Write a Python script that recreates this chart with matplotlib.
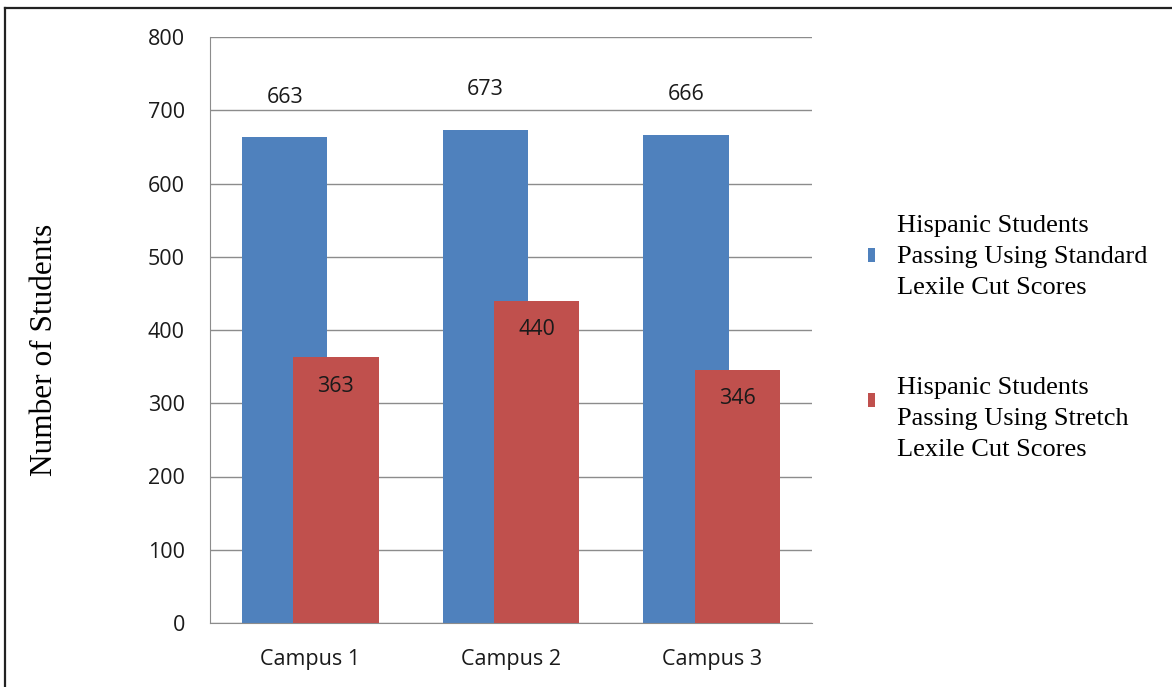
import matplotlib
matplotlib.use("Agg")
import matplotlib.pyplot as plt
from matplotlib.patches import Rectangle
from matplotlib.lines import Line2D
import numpy as np

campuses = ["Campus 1", "Campus 2", "Campus 3"]
standard = [663, 673, 666]
stretch = [363, 440, 346]
series_names = [
    ["Hispanic Students", "Passing Using Standard", "Lexile Cut Scores"],
    ["Hispanic Students", "Passing Using Stretch", "Lexile Cut Scores"],
]
yticks = [0, 100, 200, 300, 400, 500, 600, 700, 800]

BLUE = "#4F81BD"
RED = "#C0504D"
GRID = "#8C8C8C"
W, H = 1172, 687

fig = plt.figure(figsize=(W / 100, H / 100), dpi=100)
ax = fig.add_axes([210 / W, 1 - 623 / H, 602 / W, 586 / H])

x = np.arange(len(campuses))
bw = 0.425
off = 0.1275
ax.bar(x - off, standard, width=bw, color=BLUE, zorder=2)
ax.bar(x + off, stretch, width=bw, color=RED, zorder=3)

tick_font = "Open Sans"
fs = 15.5
for xi, v in zip(x, standard):
    ax.annotate(str(v), (xi - off, v), xytext=(0, 29), textcoords="offset points",
                ha="center", va="center", fontsize=fs, family=tick_font, color="#1a1a1a", zorder=4)
for xi, v in zip(x, stretch):
    ax.annotate(str(v), (xi + off, v), xytext=(0, -21), textcoords="offset points",
                ha="center", va="center", fontsize=fs, family=tick_font, color="#1a1a1a", zorder=4)

ax.set_xlim(-0.5, 2.5)
ax.set_ylim(0, 800)
ax.set_yticks(yticks)
ax.set_yticklabels([str(t) for t in yticks], fontsize=fs, family=tick_font)
ax.set_xticks(x)
ax.set_xticklabels(campuses, fontsize=fs, family=tick_font)
ax.tick_params(axis="both", length=0, colors="#1a1a1a")
ax.tick_params(axis="y", pad=18)
ax.tick_params(axis="x", pad=19)
ax.yaxis.grid(True, color=GRID, linewidth=1.0, zorder=0)
ax.set_axisbelow(True)
for s in ["top", "right"]:
    ax.spines[s].set_visible(False)
ax.spines["left"].set_color(GRID)
ax.spines["bottom"].set_color(GRID)

fig.text(45 / W, 1 - 350 / H, "Number of Students", rotation=90, ha="center", va="center",
         fontsize=22.5, family="Liberation Serif")

# legend drawn beside the plot
for color, lines, ycenter, ytop in [(BLUE, series_names[0], 255, 226), (RED, series_names[1], 400, 388)]:
    fig.patches.append(Rectangle((868 / W, 1 - (ycenter + 7) / H), 7 / W, 14 / H,
                                 transform=fig.transFigure, facecolor=color, edgecolor="none"))
    for i, line in enumerate(lines):
        fig.text(897 / W, 1 - (ytop + 31 * i) / H, line, ha="left", va="center",
                 fontsize=19, family="Liberation Serif")

# page frame
fig.add_artist(Line2D([5 / W, 1], [1 - 7.5 / H, 1 - 7.5 / H], transform=fig.transFigure,
                      color="#222222", linewidth=1.6))
fig.add_artist(Line2D([5 / W, 5 / W], [0, 1 - 7.5 / H], transform=fig.transFigure,
                      color="#222222", linewidth=1.6))

fig.savefig("out.png", dpi=100, facecolor="white")
